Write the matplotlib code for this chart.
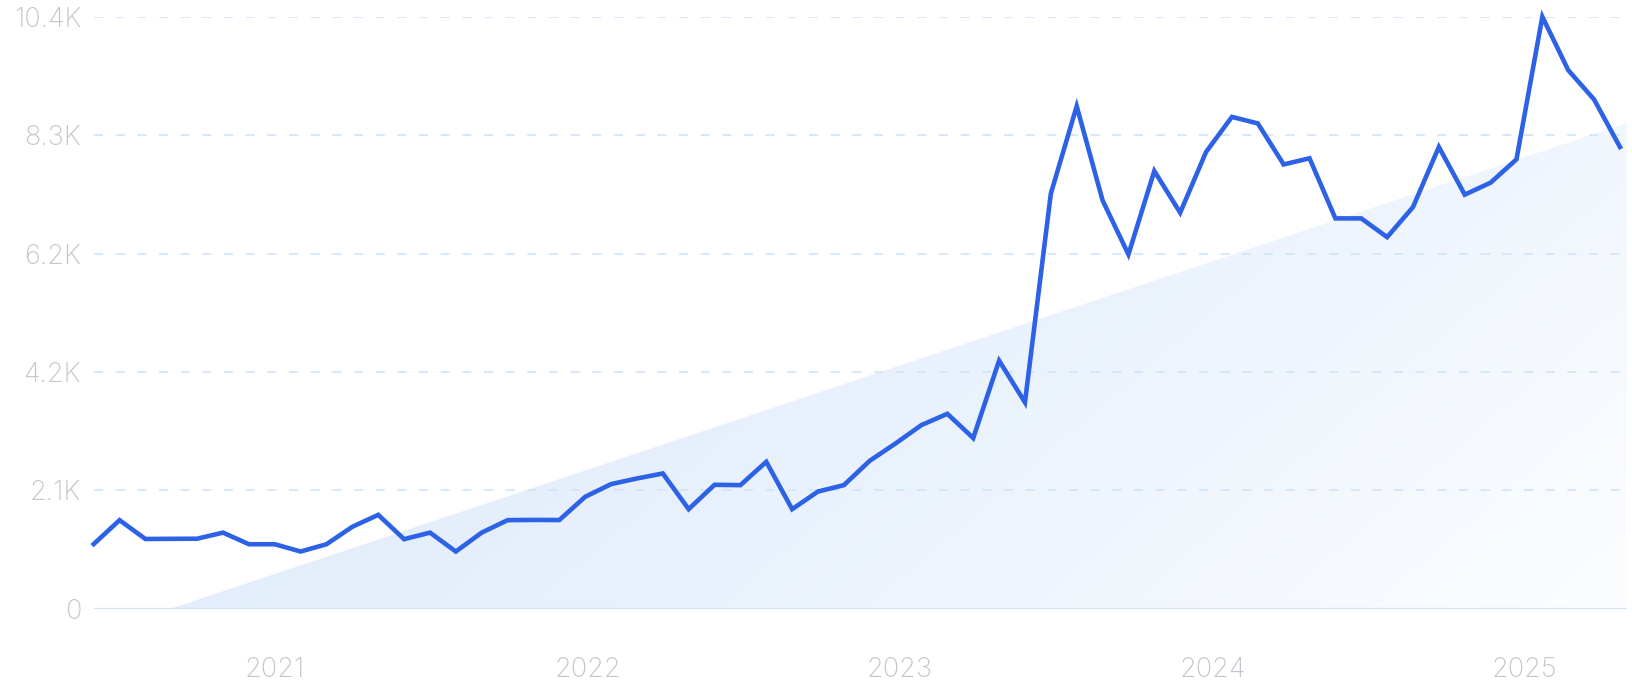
import numpy as np
import matplotlib.pyplot as plt
from matplotlib.colors import LinearSegmentedColormap
from matplotlib.patches import Polygon

# monthly values, Jun 2020 .. May 2025
months = list(range(60))
values = [1135, 1556, 1225, 1228, 1230, 1337, 1133, 1133, 1005, 1133,
          1440, 1649, 1222, 1337, 1005, 1337, 1556, 1560, 1558, 1966,
          2189, 2288, 2376, 1749, 2177, 2171, 2581, 1749, 2059, 2171,
          2599, 2904, 3227, 3424, 2998, 4358, 3625, 7292, 8828, 7174,
          6224, 7690, 6957, 8024, 8640, 8526, 7805, 7913, 6857, 6857,
          6528, 7056, 8112, 7274, 7485, 7895, 10400, 9462, 8946, 8112]

# trend line end values (first and last month)
trend_first = -447
trend_last = 8489

y_ticks = [0, 2080, 4160, 6240, 8320, 10400]
y_labels = ['0', '2.1K', '4.2K', '6.2K', '8.3K', '10.4K']
year_pos = [7, 19.1, 31.15, 43.25, 55.3]
year_labels = ['2021', '2022', '2023', '2024', '2025']

LINE = '#2d62e6'
GRID = '#d2e6f9'
TXT = '#c4c4cc'

plt.rcParams['font.family'] = ['Inter', 'DejaVu Sans']

fig = plt.figure(figsize=(16.32, 7), dpi=100)
ax = fig.add_axes([0.0574, 0.1304, 0.9395, 0.8457])
x_max = 59.27
ax.set_xlim(0, x_max)
ax.set_ylim(0, 10400)

# trend area with gradient
slope = (trend_last - trend_first) / (months[-1] - months[0])
x0 = -trend_first / slope
y_end = trend_first + slope * x_max
poly = Polygon([(x0, 0), (x_max, 0), (x_max, y_end)], closed=True,
               facecolor='none', edgecolor='none')
ax.add_patch(poly)
cmap = LinearSegmentedColormap.from_list('g', ['#dde9fa', '#e8f1fc', '#fcfdff'])
u = np.linspace(0, 1, 400)
v = np.linspace(1, 0, 200)
U, V = np.meshgrid(u, v)
grad = 0.72 * U + 0.28 * (1 - V)
im = ax.imshow(grad, extent=[x0, x_max, 0, y_end], cmap=cmap, aspect='auto',
               origin='upper', interpolation='bilinear', zorder=1)
im.set_clip_path(poly)

# grid
for t in y_ticks[1:]:
    ax.axhline(t, color=GRID, lw=1.3, dashes=(5, 7), zorder=2)
ax.axhline(0, color='#cfe4fa', lw=1.6, zorder=2)

ax.plot(months, values, color=LINE, lw=3.3, solid_joinstyle='miter',
        zorder=3, clip_on=False)

for s in ax.spines.values():
    s.set_visible(False)
ax.set_yticks(y_ticks)
ax.set_yticklabels(y_labels)
ax.set_xticks(year_pos)
ax.set_xticklabels(year_labels)
ax.tick_params(axis='y', length=0, pad=9, labelsize=19.5, labelcolor=TXT)
ax.tick_params(axis='x', length=0, pad=35, labelsize=19.5, labelcolor=TXT)
for lab in ax.get_xticklabels() + ax.get_yticklabels():
    lab.set_fontweight('light')

fig.savefig('out.png', dpi=100, facecolor='white')
